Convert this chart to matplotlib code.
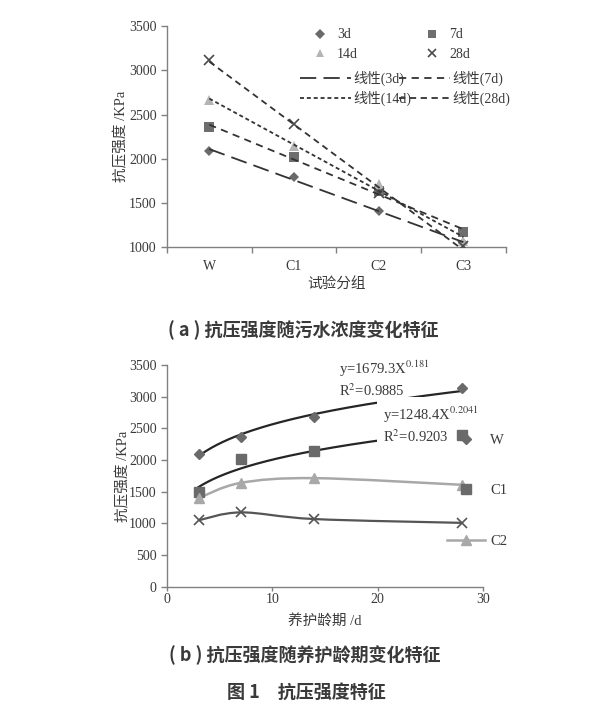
import matplotlib
matplotlib.use('Agg')
import matplotlib.pyplot as plt
import numpy as np
from matplotlib.path import Path
from matplotlib.patches import PathPatch
from matplotlib.lines import Line2D

plt.rcParams['font.family'] = ['Liberation Serif', 'Noto Sans CJK SC']
plt.rcParams['mathtext.fontset'] = 'stix'

# (a) strength by group, one series per curing age
groups = ['W', 'C1', 'C2', 'C3']
d3 = [2085, 1795, 1405, 1045]
d7 = [2355, 2020, 1630, 1170]
d14 = [2665, 2145, 1712, 1070]
d28 = [3120, 2390, 1610, 1010]

# (b) strength by curing age, one series per group
ages = [3, 7, 14, 28]
w_vals = [2090, 2370, 2680, 3140]
c1_vals = [1500, 2020, 2140, 2400]
c2_vals = [1400, 1640, 1715, 1610]
c3_vals = [1050, 1175, 1070, 1010]

eq_w = ['y=1679.3X$^{0.181}$', 'R$^{2}$=0.9885']
eq_c1 = ['y=1248.4X$^{0.2041}$', 'R$^{2}$=0.9203']

AX_COL = '#808080'
TXT_COL = '#3a3a3a'


def smooth_path(xs, ys):
    # excel style smoothed line: bezier segments through the points
    pts = np.column_stack([xs, ys]).astype(float)
    n = len(pts)
    verts = [pts[0]]
    codes = [Path.MOVETO]
    for i in range(n - 1):
        p0 = pts[max(i - 1, 0)]
        p1 = pts[i]
        p2 = pts[i + 1]
        p3 = pts[min(i + 2, n - 1)]
        verts += [p1 + (p2 - p0) / 6, p2 - (p3 - p1) / 6, p2]
        codes += [Path.CURVE4] * 3
    return Path(verts, codes)


def power_fit(x, y):
    b, ln_a = np.polyfit(np.log(x), np.log(y), 1)
    return np.exp(ln_a), b


def style_axes(ax):
    for s in ['top', 'right']:
        ax.spines[s].set_visible(False)
    for s in ['left', 'bottom']:
        ax.spines[s].set_color(AX_COL)
        ax.spines[s].set_linewidth(1.0)
    ax.tick_params(which='both', colors=AX_COL, labelcolor=TXT_COL,
                   labelsize=10, length=4, width=1)


fig = plt.figure(figsize=(6.16, 7.08), dpi=100)

# ---------------- (a) ----------------
ax1 = fig.add_axes([0.271, 0.651, 0.550, 0.312])
style_axes(ax1)
xpos = np.arange(1, len(groups) + 1)

series_a = [
    ('3d', d3, 'D', '#6a6a6a', 5.5, (0, (9, 4))),
    ('7d', d7, 's', '#6e6e6e', 6.5, (0, (4, 3))),
    ('14d', d14, '^', '#b4b4b4', 6.5, (0, (2.2, 1.6))),
    ('28d', d28, 'x', '#4a4a4a', 6.5, (0, (3.5, 2.5))),
]
marker_h = {}
line_h = {}
for name, vals, mk, col, ms, ls in series_a:
    mew = 1.2 if mk == 'x' else 0
    marker_h[name], = ax1.plot(xpos, vals, linestyle='none', marker=mk,
                               color=col, markersize=ms, markeredgewidth=mew,
                               zorder=3)
    k, c = np.polyfit(xpos, vals, 1)
    line_h[name], = ax1.plot(xpos, k * xpos + c, color='#333333',
                             linestyle=ls, linewidth=1.3, zorder=4)

ax1.set_xlim(0.5, 4.5)
ax1.set_ylim(1000, 3500)
ax1.set_xticks(np.arange(0.5, 4.6, 1))
ax1.set_xticklabels([])
ax1.set_xticks(xpos, minor=True)
ax1.set_xticklabels(groups, minor=True)
ax1.tick_params(axis='x', which='minor', length=0, pad=9)
ax1.set_yticks(np.arange(1000, 3501, 500))
ax1.set_ylabel('抗压强度 /KPa', fontsize=10.5, color=TXT_COL)
ax1.yaxis.set_label_coords(-0.113, 0.5)
ax1.set_xlabel('试验分组', fontsize=10.5, color=TXT_COL)
ax1.xaxis.set_label_coords(0.5, -0.135)

# legend in two parts: marker rows and trend line rows
leg_m = ax1.legend([marker_h['3d'], marker_h['14d'], marker_h['7d'], marker_h['28d']],
                   ['3d', '14d', '7d', '28d'], ncol=2, loc='upper left',
                   bbox_to_anchor=(0.43, 0.99), frameon=False, fontsize=10,
                   borderpad=0, borderaxespad=0, handlelength=1.0,
                   handletextpad=0.75, columnspacing=4.8, labelspacing=0.45,
                   markerscale=0.85)
for t in leg_m.get_texts():
    t.set_color(TXT_COL)
ax1.add_artist(leg_m)

leg_l = ax1.legend([line_h['3d'], line_h['14d'], line_h['7d'], line_h['28d']],
                   ['线性(3d)', '线性(14d)', '线性(7d)', '线性(28d)'], ncol=2,
                   loc='upper left', bbox_to_anchor=(0.392, 0.80),
                   frameon=False, fontsize=10, borderpad=0, borderaxespad=0,
                   handlelength=3.7, handletextpad=0.15, columnspacing=-0.9,
                   labelspacing=0.35)
for t in leg_l.get_texts():
    t.set_color(TXT_COL)

# ---------------- (b) ----------------
ax2 = fig.add_axes([0.271, 0.171, 0.513, 0.3136])
style_axes(ax2)

xs = np.linspace(ages[0], ages[-1], 200)
a_w, b_w = power_fit(ages, w_vals)
a_c1, b_c1 = power_fit(ages, c1_vals)
ax2.plot(xs, a_w * xs ** b_w, color='#262626', linewidth=1.6, zorder=2)
ax2.plot(xs, a_c1 * xs ** b_c1, color='#262626', linewidth=1.6, zorder=2)

ax2.add_patch(PathPatch(smooth_path(ages, c2_vals), facecolor='none',
                        edgecolor='#a8a8a8', linewidth=1.8, zorder=2))
ax2.add_patch(PathPatch(smooth_path(ages, c3_vals), facecolor='none',
                        edgecolor='#555555', linewidth=1.6, zorder=2))

ax2.plot(ages, w_vals, linestyle='none', marker='D', color='#6a6a6a',
         markersize=5, zorder=3)
ax2.plot(ages, c1_vals, linestyle='none', marker='s', color='#6a6a6a',
         markersize=6.5, zorder=3)
ax2.plot(ages, c2_vals, linestyle='none', marker='^', color='#a8a8a8',
         markersize=6.5, zorder=3)
ax2.plot(ages, c3_vals, linestyle='none', marker='x', color='#555555',
         markersize=6.5, markeredgewidth=1.2, zorder=3)

ax2.text(16.3, 3600, eq_w[0] + '\n' + eq_w[1], fontsize=10.5, color=TXT_COL,
         va='top', ha='left', linespacing=1.25, zorder=2.5, clip_on=False)
ax2.text(20.5, 2870, eq_c1[0] + '\n' + eq_c1[1], fontsize=10.5,
         color=TXT_COL, va='top', ha='left', linespacing=1.25, zorder=2.5,
         bbox=dict(facecolor='white', edgecolor='none', pad=4))

ax2.set_xlim(0, 30)
ax2.set_ylim(0, 3500)
ax2.set_xticks([0, 10, 20, 30])
ax2.set_yticks(np.arange(0, 3501, 500))
ax2.tick_params(axis='x', length=3, pad=1.5)
ax2.set_ylabel('抗压强度 /KPa', fontsize=10.5, color=TXT_COL)
ax2.yaxis.set_label_coords(-0.115, 0.5)
ax2.set_xlabel('养护龄期 /d', fontsize=10.5, color=TXT_COL)
ax2.xaxis.set_label_coords(0.5, -0.122)

leg_handles = [
    Line2D([], [], linestyle='none', marker='D', color='#6a6a6a', markersize=5),
    Line2D([], [], linestyle='none', marker='s', color='#6a6a6a', markersize=6.5),
    Line2D([], [], color='#a8a8a8', linewidth=1.8, marker='^', markersize=6.5),
]
leg2 = ax2.legend(leg_handles, ['W', 'C1', 'C2'], loc='upper left',
                  bbox_to_anchor=(0.886, 0.69), frameon=False, fontsize=10.5,
                  borderpad=0, borderaxespad=0, handlelength=2.6,
                  handletextpad=0.35, labelspacing=2.55)
for t in leg2.get_texts():
    t.set_color(TXT_COL)

# captions
cap_font = ['Noto Sans CJK SC']
fig.text(0.492, 1 - 330 / 708, '( a ) 抗压强度随污水浓度变化特征', ha='center',
         va='center', fontsize=13, family=cap_font, weight='bold',
         color='#3a3a3a')
fig.text(0.495, 1 - 655 / 708, '( b ) 抗压强度随养护龄期变化特征', ha='center',
         va='center', fontsize=13, family=cap_font, weight='bold',
         color='#3a3a3a')
fig.text(0.498, 1 - 692 / 708, '图 1　抗压强度特征', ha='center',
         va='center', fontsize=13, family=cap_font, weight='bold',
         color='#3a3a3a')

fig.savefig('out.png', dpi=100)
